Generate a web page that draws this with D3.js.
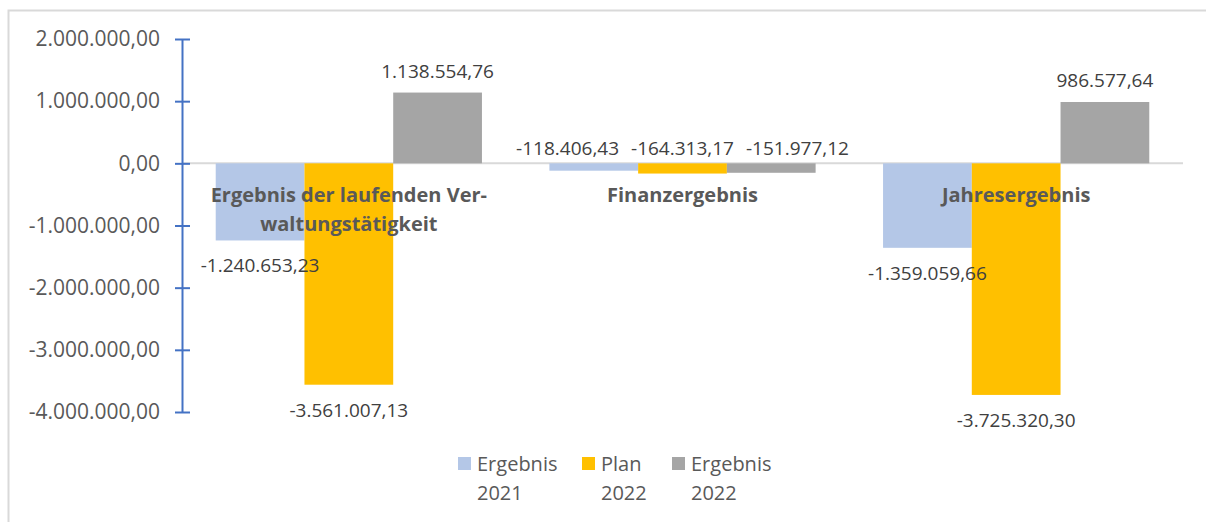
<!DOCTYPE html>
<html>
<head>
<meta charset="utf-8">
<script src="https://cdn.jsdelivr.net/npm/d3@7"></script>
<style>
  body { margin: 0; background: #fff; }
  svg { display: block; font-family: "Open Sans", sans-serif; }
</style>
</head>
<body>
<div id="chart"></div>
<script>
// Data
const categories = [
    ['Ergebnis der laufenden Ver-', 'waltungstätigkeit'],
    ['Finanzergebnis'],
    ['Jahresergebnis']
];
const seriesNames = [['Ergebnis', '2021'], ['Plan', '2022'], ['Ergebnis', '2022']];
const seriesColors = ['#B4C7E7', '#FFC000', '#A5A5A5'];
const ergebnis2021 = [-1240653.23, -118406.43, -1359059.66];
const plan2022 = [-3561007.13, -164313.17, -3725320.30];
const ergebnis2022 = [1138554.76, -151977.12, 986577.64];
const tickValues = [2000000, 1000000, 0, -1000000, -2000000, -3000000, -4000000];

const series = [ergebnis2021, plan2022, ergebnis2022];

const width = 1206, height = 522;
const textColor = '#595959';

// German number format, plain hyphen for negatives
const de = d3.formatLocale({ decimal: ',', thousands: '.', grouping: [3], currency: ['', ' €'], minus: '-' });
const fmt = de.format(',.2f');

const svg = d3.select('#chart')
    .append('svg')
    .attr('width', width)
    .attr('height', height);

// Chart frame
svg.append('rect')
    .attr('x', 8.5).attr('y', 10.5)
    .attr('width', 1220).attr('height', 540)
    .attr('fill', 'none')
    .attr('stroke', '#D9D9D9')
    .attr('stroke-width', 2);

const plot = { left: 182, right: 1183, top: 39, bottom: 412 };

const y = d3.scaleLinear()
    .domain([-4000000, 2000000])
    .range([plot.bottom, plot.top]);

const groupW = (plot.right - plot.left) / categories.length;
const x1 = d3.scaleBand()
    .domain(d3.range(series.length))
    .range([0, groupW])
    .paddingOuter(0.38)
    .paddingInner(0);

// Zero line
svg.append('line')
    .attr('x1', plot.left).attr('x2', plot.right)
    .attr('y1', y(0)).attr('y2', y(0))
    .attr('stroke', '#D9D9D9')
    .attr('stroke-width', 2);

// Bars
const groups = svg.selectAll('.group')
    .data(categories)
    .join('g')
    .attr('class', 'group')
    .attr('transform', (d, i) => `translate(${plot.left + i * groupW},0)`);

groups.each(function (cat, ci) {
    const g = d3.select(this);
    series.forEach((vals, si) => {
        const v = vals[ci];
        g.append('rect')
            .attr('x', x1(si))
            .attr('width', x1.bandwidth())
            .attr('y', Math.min(y(v), y(0)))
            .attr('height', Math.abs(y(v) - y(0)))
            .attr('fill', seriesColors[si]);
    });
});

// Category labels (drawn over bars)
groups.each(function (cat) {
    const g = d3.select(this);
    cat.forEach((line, li) => {
        g.append('text')
            .attr('x', groupW / 2)
            .attr('y', 202 + li * 29)
            .attr('text-anchor', 'middle')
            .attr('font-size', 20)
            .attr('font-weight', 'bold')
            .attr('fill', textColor)
            .text(line);
    });
});

// Data labels
groups.each(function (cat, ci) {
    const g = d3.select(this);
    const labels = [];
    series.forEach((vals, si) => {
        const v = vals[ci];
        const barH = Math.abs(y(v) - y(0));
        let ly;
        if (v >= 0) ly = y(v) - 15;
        else if (barH < 20) ly = y(0) - 8;
        else ly = y(v) + 32;
        const t = g.append('text')
            .attr('x', x1(si) + x1.bandwidth() / 2)
            .attr('y', ly)
            .attr('text-anchor', 'middle')
            .attr('font-size', 19)
            .attr('fill', '#404040')
            .text(fmt(v));
        labels.push({ node: t, cx: x1(si) + x1.bandwidth() / 2, y: ly, w: t.node().getComputedTextLength() });
    });
    // push apart labels that sit on the same line and overlap
    const gap = 12;
    for (let iter = 0; iter < 20; iter++) {
        for (let a = 0; a < labels.length - 1; a++) {
            const l = labels[a], r = labels[a + 1];
            if (l.y !== r.y) continue;
            const need = (l.w + r.w) / 2 + gap - (r.cx - l.cx);
            if (need > 0) { l.cx -= need / 2; r.cx += need / 2; }
        }
    }
    labels.forEach(l => l.node.attr('x', l.cx));
});

// Y axis
const axis = svg.append('g')
    .attr('transform', `translate(${plot.left},0)`)
    .call(d3.axisLeft(y).tickValues(tickValues).tickFormat(fmt).tickSize(0).tickPadding(22));
axis.select('.domain').attr('stroke', '#4472C4').attr('stroke-width', 2);
axis.selectAll('.tick text')
    .attr('font-size', 21)
    .attr('font-family', '"Open Sans", sans-serif')
    .attr('fill', textColor);
axis.selectAll('.tick').append('line')
    .attr('x1', -7).attr('x2', 8)
    .attr('stroke', '#4472C4')
    .attr('stroke-width', 2);

// Legend
const legendX = [458, 582, 672];
const legend = svg.append('g');
seriesNames.forEach((name, i) => {
    const lg = legend.append('g').attr('transform', `translate(${legendX[i]},0)`);
    lg.append('rect')
        .attr('x', 0).attr('y', 457)
        .attr('width', 13).attr('height', 13)
        .attr('fill', seriesColors[i]);
    name.forEach((line, li) => {
        lg.append('text')
            .attr('x', 19)
            .attr('y', 471 + li * 29)
            .attr('font-size', 20)
            .attr('fill', textColor)
            .text(line);
    });
});
</script>
</body>
</html>
